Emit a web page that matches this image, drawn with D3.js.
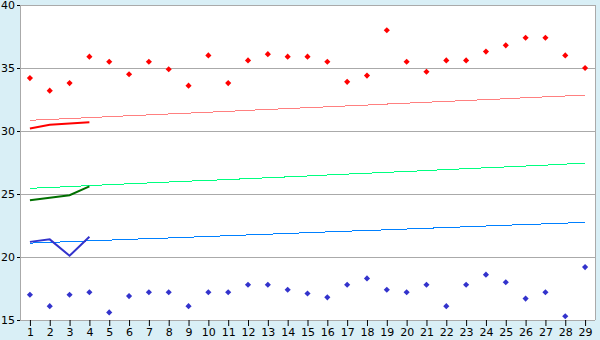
<!DOCTYPE html>
<html>
<head>
<meta charset="utf-8">
<script src="https://cdn.jsdelivr.net/npm/d3@7"></script>
<style>
  body { margin: 0; background: #d9eff6; }
  text { font-family: "DejaVu Sans", Verdana, sans-serif; font-size: 11px; fill: #000; }
</style>
</head>
<body>
<div id="chart"></div>
<script>
const days = d3.range(1, 30);
const yTicks = [15, 20, 25, 30, 35, 40];

const highs = [34.2, 33.2, 33.8, 35.9, 35.5, 34.5, 35.5, 34.9, 33.6, 36.0,
  33.8, 35.6, 36.1, 35.9, 35.9, 35.5, 33.9, 34.4, 38.0, 35.5,
  34.7, 35.6, 35.6, 36.3, 36.8, 37.4, 37.4, 36.0, 35.0];
const lows = [17.0, 16.1, 17.0, 17.2, 15.6, 16.9, 17.2, 17.2, 16.1, 17.2,
  17.2, 17.8, 17.8, 17.4, 17.1, 16.8, 17.8, 18.3, 17.4, 17.2,
  17.8, 16.1, 17.8, 18.6, 18.0, 16.7, 17.2, 15.3, 19.2];

const normalHigh = [30.85, 30.92, 30.99, 31.06, 31.14, 31.21, 31.28, 31.35, 31.42, 31.49,
  31.56, 31.64, 31.71, 31.78, 31.85, 31.92, 31.99, 32.06, 32.14, 32.21,
  32.28, 32.35, 32.42, 32.49, 32.56, 32.64, 32.71, 32.78, 32.85];
const normalMean = [25.45, 25.52, 25.59, 25.67, 25.74, 25.81, 25.88, 25.95, 26.02, 26.08,
  26.15, 26.22, 26.29, 26.36, 26.43, 26.51, 26.58, 26.65, 26.72, 26.79,
  26.86, 26.94, 27.01, 27.08, 27.15, 27.22, 27.29, 27.37, 27.46];
const normalLow = [21.10, 21.16, 21.22, 21.28, 21.34, 21.40, 21.46, 21.51, 21.57, 21.63,
  21.69, 21.75, 21.81, 21.87, 21.93, 21.99, 22.05, 22.10, 22.16, 22.22,
  22.28, 22.34, 22.40, 22.46, 22.52, 22.58, 22.63, 22.69, 22.75];

const avgHigh = [30.2, 30.5, 30.6, 30.7];
const avgMean = [24.5, 24.7, 24.9, 25.6];
const avgLow = [21.2, 21.4, 20.1, 21.6];

const MARGIN = { TOP: 5, BOTTOM: 20, LEFT: 20, RIGHT: 5 };
const WIDTH = 600 - MARGIN.LEFT - MARGIN.RIGHT;
const HEIGHT = 340 - MARGIN.TOP - MARGIN.BOTTOM;

const svg = d3.select("#chart")
  .append("svg")
    .attr("width", 600)
    .attr("height", 340)
  .append("g")
    .attr("transform", `translate(${MARGIN.LEFT}, ${MARGIN.TOP})`);

const x = d3.scalePoint()
  .domain(days)
  .range([0, WIDTH])
  .padding(0.5);

const y = d3.scaleLinear()
  .domain([15, 40])
  .range([HEIGHT, 0]);

svg.append("rect")
  .attr("width", WIDTH)
  .attr("height", HEIGHT)
  .attr("fill", "#fff");

// grid
svg.append("g")
  .selectAll("line")
  .data(yTicks)
  .join("line")
    .attr("x1", 0)
    .attr("x2", WIDTH)
    .attr("y1", d => Math.round(y(d)) + 0.5)
    .attr("y2", d => Math.round(y(d)) + 0.5)
    .attr("stroke", "#aaa");

svg.append("line")
  .attr("x1", 0.5).attr("x2", 0.5)
  .attr("y1", 0).attr("y2", HEIGHT)
  .attr("stroke", "#aaa");
svg.append("line")
  .attr("x1", WIDTH + 0.5).attr("x2", WIDTH + 0.5)
  .attr("y1", 0).attr("y2", HEIGHT)
  .attr("stroke", "#aaa");

// axes
const yAxis = svg.append("g")
  .call(d3.axisLeft(y).tickValues(yTicks).tickSize(3).tickPadding(2));
yAxis.select(".domain").remove();
yAxis.selectAll("text").style("font-size", "11px");

const xAxis = svg.append("g")
  .attr("transform", `translate(0, ${HEIGHT})`)
  .call(d3.axisBottom(x).tickSize(6).tickPadding(2));
xAxis.select(".domain").remove();
xAxis.selectAll("text").style("font-size", "11px");

// lines
const line = data => d3.line()
  .x((d, i) => x(days[i]))
  .y(d => y(d))(data);

const thin = [[normalHigh, "#ff8080"], [normalMean, "#00ff80"], [normalLow, "#0080ff"]];
svg.append("g")
  .selectAll("path")
  .data(thin)
  .join("path")
    .attr("d", d => line(d[0]))
    .attr("fill", "none")
    .attr("stroke", d => d[1])
    .attr("stroke-width", 1)
    .attr("shape-rendering", "crispEdges");

const thick = [[avgHigh, "#ff0000"], [avgMean, "#007000"], [avgLow, "#3333cc"]];
svg.append("g")
  .selectAll("path")
  .data(thick)
  .join("path")
    .attr("d", d => line(d[0]))
    .attr("fill", "none")
    .attr("stroke", d => d[1])
    .attr("stroke-width", 2);

// points
const diamond = d3.symbol().type(d3.symbolDiamond2).size(24);

svg.append("g")
  .selectAll("path")
  .data(highs)
  .join("path")
    .attr("transform", (d, i) => `translate(${x(days[i])}, ${y(d)})`)
    .attr("d", diamond)
    .attr("fill", "#ff0000");

svg.append("g")
  .selectAll("path")
  .data(lows)
  .join("path")
    .attr("transform", (d, i) => `translate(${x(days[i])}, ${y(d)})`)
    .attr("d", diamond)
    .attr("fill", "#3333cc");
</script>
</body>
</html>
